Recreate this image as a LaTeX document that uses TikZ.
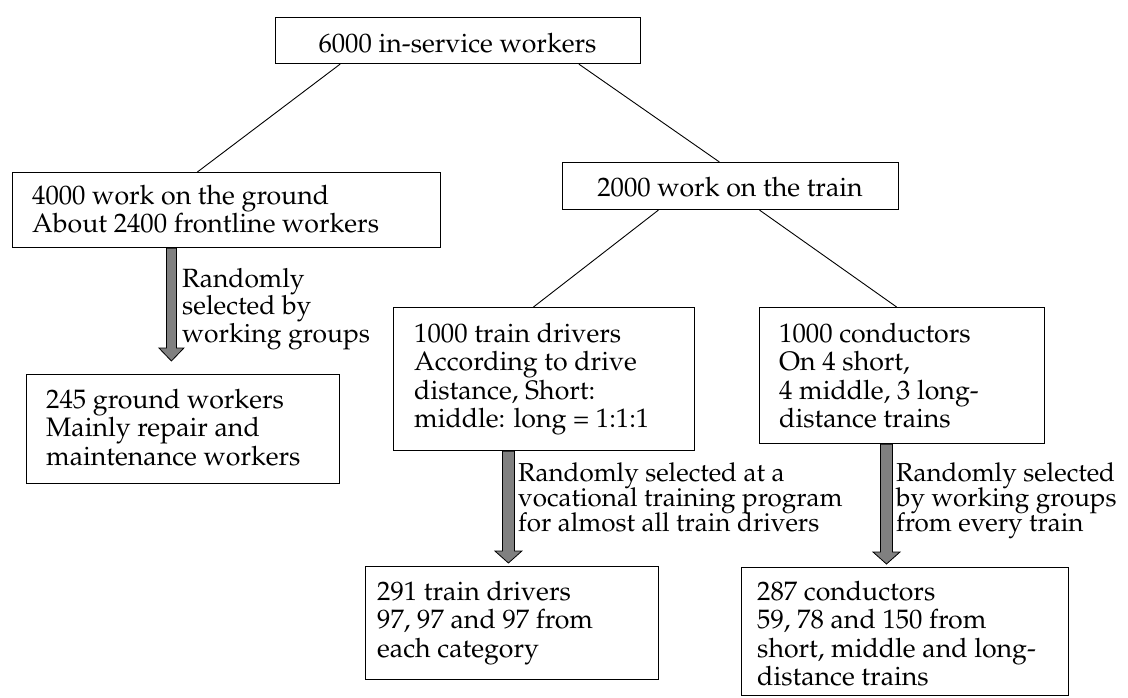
\documentclass[tikz,border=0pt]{standalone}
\usepackage[T1]{fontenc}
\usepackage{mathpazo}
\usetikzlibrary{calc}
\definecolor{arrgray}{RGB}{128,128,128}
\newcommand{\blk}[1]{\parbox[t]{500pt}{\lineskiplimit=-1000pt\relax #1}}
\newcommand{\fatarrow}[5]{%
  \draw[fat] let \p1=(#1), \p2=(#2) in
    (\x1-#3pt,\y1) -- (\x1-#3pt,\y2+#5pt) -- (\x1-#4pt,\y2+#5pt) -- (\x1,\y2)
    -- (\x1+#4pt,\y2+#5pt) -- (\x1+#3pt,\y2+#5pt) -- (\x1+#3pt,\y1) -- cycle;}
\begin{document}
\begin{tikzpicture}[x=1pt,y=-1pt,
  box/.style={draw=black, line width=1.1pt, inner sep=0pt, anchor=north west},
  txt/.style={inner sep=0pt, anchor=base west, font=\fontsize{26.7}{28.5}\selectfont},
  lblA/.style={inner sep=0pt, anchor=base west, font=\fontsize{26.4}{27.5}\selectfont},
  lblB/.style={inner sep=0pt, anchor=base west, font=\fontsize{26}{25}\selectfont},
  conn/.style={draw=black, line width=0.9pt},
  fat/.style={fill=arrgray, draw=black, line width=0.8pt}]
\useasboundingbox (0,0) rectangle (1128,697);

% boxes
\node[box, minimum width=365pt, minimum height=46pt]  (top)     at (275,17)  {};
\node[box, minimum width=428pt, minimum height=75pt]  (ground)  at (12,172)  {};
\node[box, minimum width=336pt, minimum height=47pt]  (train)   at (562,162) {};
\node[box, minimum width=313pt, minimum height=109pt] (gw)      at (26,374)  {};
\node[box, minimum width=301pt, minimum height=143pt] (drivers) at (393,307) {};
\node[box, minimum width=285pt, minimum height=136pt] (cond)    at (759,307) {};
\node[box, minimum width=293pt, minimum height=113pt] (d291)    at (365,566) {};
\node[box, minimum width=327pt, minimum height=128pt] (c287)    at (741,567) {};

% box texts
\node[txt, anchor=base] (toptxt) at (457.5,52) {6000 in-service workers};
\node[txt] (groundtxt) at (32,204) {\blk{4000 work on the ground\\About 2400 frontline workers}};
\node[txt, anchor=base] (traintxt) at (730,196) {2000 work on the train};
\node[txt] (gwtxt) at (46,408) {\blk{245 ground workers\\Mainly repair and\\maintenance workers}};
\node[txt] (driverstxt) at (414,342) {\blk{1000 train drivers\\According to drive\\distance, Short:\\middle: long = 1:1:1}};
\node[txt] (condtxt) at (779,342) {\blk{1000 conductors\\On 4 short,\\4 middle, 3 long-\\distance trains}};
\node[txt] (d291txt) at (377,600) {\blk{291 train drivers\\97, 97 and 97 from\\each category}};
\node[txt] (c287txt) at (757,600) {\blk{287 conductors\\59, 78 and 150 from\\short, middle and long-\\distance trains}};

% arrow labels
\node[lblA] (lbl1) at (182,287) {\blk{Randomly\\selected by\\working groups}};
\node[lblB] (lbl2) at (518,481) {\blk{Randomly selected at a\\vocational training program\\for almost all train drivers}};
\node[lblB] (lbl3) at (896,481) {\blk{Randomly selected\\by working groups\\from every train}};

% connectors
\draw[conn] ($(top.south west)!0.178!(top.south east)$) -- ($(ground.north west)!0.432!(ground.north east)$);
\draw[conn] ($(top.south west)!0.830!(top.south east)$) -- ($(train.north west)!0.467!(train.north east)$);
\draw[conn] ($(train.south west)!0.286!(train.south east)$) -- ($(drivers.north west)!0.465!(drivers.north east)$);
\draw[conn] ($(train.south west)!0.586!(train.south east)$) -- ($(cond.north west)!0.481!(cond.north east)$);

% fat arrows
\coordinate (a1s) at ($(ground.south west)!0.3715!(ground.south east)$);
\coordinate (a1t) at ($(gw.north)+(0,-13)$);
\fatarrow{a1s}{a1t}{5}{12.5}{13}
\coordinate (a2s) at ($(drivers.south west)!0.382!(drivers.south east)$);
\coordinate (a2t) at ($(d291.north)+(0,-3)$);
\fatarrow{a2s}{a2t}{6}{13.5}{12}
\coordinate (a3s) at ($(cond.south west)!0.4456!(cond.south east)$);
\coordinate (a3t) at ($(c287.north)+(0,-3)$);
\fatarrow{a3s}{a3t}{6}{13.5}{12}
\end{tikzpicture}
\end{document}
